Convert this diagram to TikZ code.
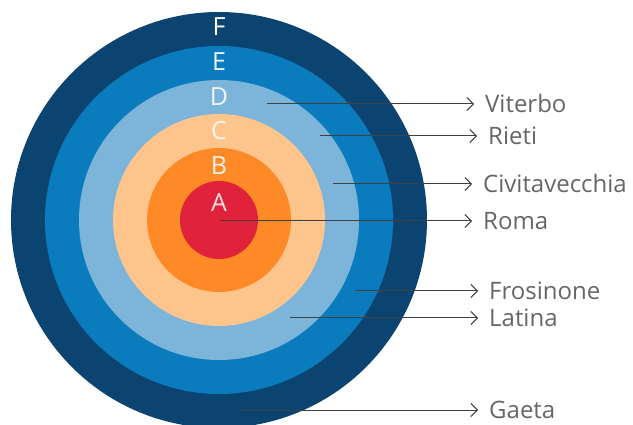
\documentclass[tikz,border=0pt]{standalone}
\usepackage{fontspec}
\setmainfont{Open Sans}
\usetikzlibrary{arrows.meta}

\definecolor{ringF}{HTML}{0B4470}
\definecolor{ringE}{HTML}{0A7BBD}
\definecolor{ringD}{HTML}{7DB4DA}
\definecolor{ringC}{HTML}{FDC48C}
\definecolor{ringB}{HTML}{FD8A26}
\definecolor{ringA}{HTML}{E0233A}
\definecolor{arrowgray}{HTML}{404040}
\definecolor{textgray}{HTML}{666666}

\tikzset{
  ring letter/.style={font=\fontsize{25}{25}\selectfont, inner sep=0pt},
  city/.style={anchor=west, inner sep=0pt, text=textgray,
    font=\fontsize{24}{24}\selectfont},
  pointer/.style={draw=arrowgray, line width=1pt,
    -{Straight Barb[length=6.5pt,width=13pt,line width=1pt]}, shorten >=11pt}
}

\begin{document}
\begin{tikzpicture}[x=1pt,y=-1pt]
    \useasboundingbox (0,0) rectangle (633,425);

    % rings, outside in
    \fill[ringF] (219,220) circle (208);
    \fill[ringE] (219,220) circle (174);
    \fill[ringD] (219,220) circle (140);
    \fill[ringC] (219,220) circle (106);
    \fill[ringB] (219,220) circle (72);
    \fill[ringA] (219,220) circle (39);

    \node[ring letter, text=white] (F) at (219,27) {F};
    \node[ring letter, text=white!92!ringE] (E) at (219,62) {E};
    \node[ring letter, text=white!88!ringD] (D) at (219,97) {D};
    \node[ring letter, text=white!85!ringC] (C) at (219,131) {C};
    \node[ring letter, text=white!80!ringC] (B) at (219,166) {B};
    \node[ring letter, text=white!85!ringA] (A) at (219,203) {A};

    % start points inside the rings
    \coordinate (c1) at (267,104);
    \coordinate (c2) at (320,136);
    \coordinate (c3) at (333,184);
    \coordinate (c4) at (220,221);
    \coordinate (c5) at (355,291);
    \coordinate (c6) at (290,318);
    \coordinate (c7) at (240,410);

    \node[city] (l1) at (485,104) {Viterbo};
    \node[city] (l2) at (488,136) {Rieti};
    \node[city] (l3) at (483,184) {Civitavecchia};
    \node[city] (l4) at (483,221) {Roma};
    \node[city] (l5) at (489,291) {Frosinone};
    \node[city] (l6) at (489,318) {Latina};
    \node[city] (l7) at (489,410) {Gaeta};

    \draw[pointer] (c1) -- (l1.west);
    \draw[pointer] (c2) -- (l2.west);
    \draw[pointer] (c3) -- (l3.west);
    \draw[pointer] (c4) -- (l4.west);
    \draw[pointer] (c5) -- (l5.west);
    \draw[pointer] (c6) -- (l6.west);
    \draw[pointer] (c7) -- (l7.west);
\end{tikzpicture}
\end{document}
